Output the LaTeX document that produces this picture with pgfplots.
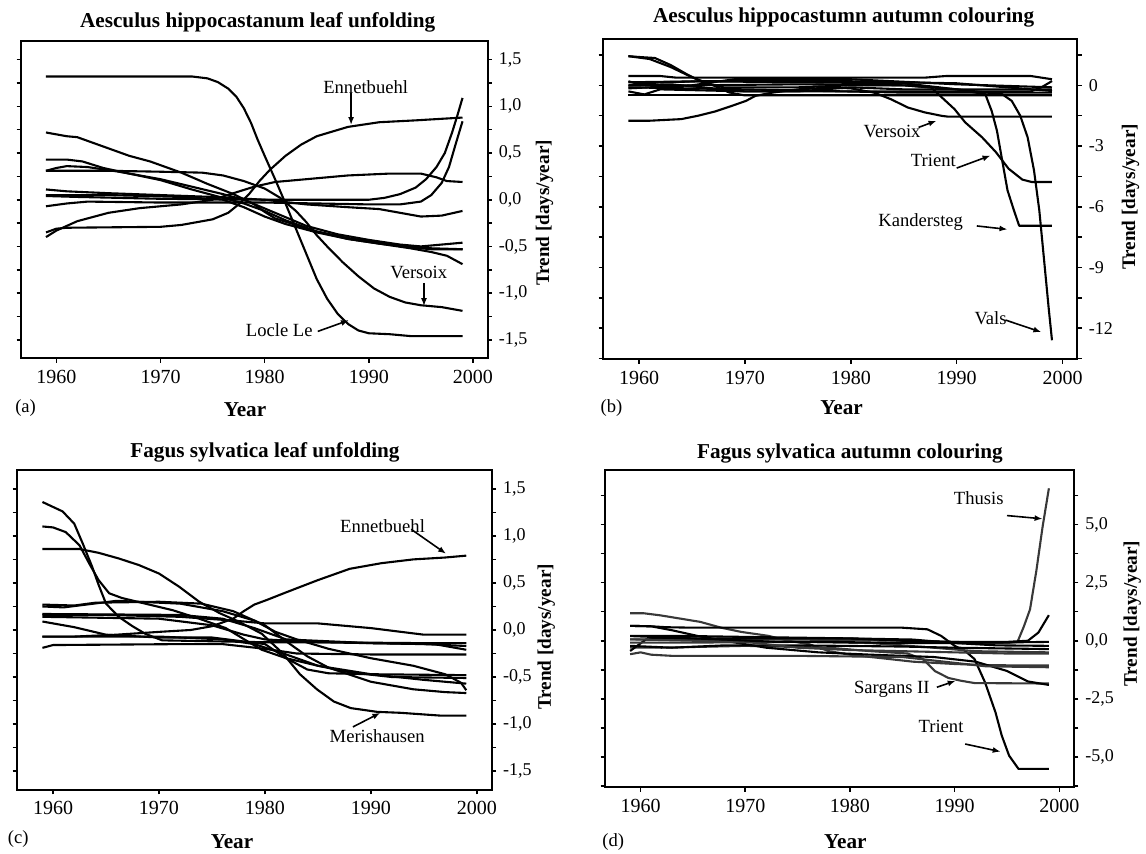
\documentclass[border=0pt]{standalone}
\usepackage{fontspec}
\setmainfont{Liberation Serif}
\usepackage{pgfplots}
\pgfplotsset{compat=1.18}
\usetikzlibrary{arrows.meta}
\pgfplotsset{
  panel/.style={
    scale only axis,
    anchor=south west,
    xmin=1956.6, xmax=2001.4,
    xtick={1960,1970,1980,1990,2000},
    xticklabels={1960,1970,1980,1990,2000},
    xtick pos=bottom,
    yticklabel pos=right,
    ytick pos=both,
    tick align=outside,
    major tick length=2.2pt,
    minor tick length=2.2pt,
    axis line style={line width=1pt},
    tick style={black, line width=0.8pt},
    yticklabel style={font=\fontsize{9}{10}\selectfont},
    xticklabel style={font=\fontsize{10}{11}\selectfont},
    cycle list={{black, solid}},
    every axis plot/.append style={line width=1.05pt, no marks, line join=round},
  },
}
\tikzset{ann/.style={font=\fontsize{9.3}{11}\selectfont},
  arr/.style={-{Latex[length=4pt,width=3pt]}, line width=0.8pt},
  ttl/.style={font=\fontsize{10.6}{12}\selectfont\bfseries},
  lbl/.style={font=\fontsize{9.6}{11}\selectfont\bfseries}}
\begin{document}
\begin{tikzpicture}
\useasboundingbox (0,0) rectangle (573pt,427pt);
% ---------------- (a)
\begin{axis}[panel, at={(10.5pt,247.75pt)}, width=233.25pt, height=158.75pt,
  ymin=-1.7, ymax=1.7,
  ytick={-1.5,-1,-0.5,0,0.5,1,1.5},
  yticklabels={{-1,5},{-1,0},{-0,5},{0,0},{0,5},{1,0},{1,5}},
  minor ytick={-1.25,-0.75,-0.25,0.25,0.75,1.25}]
\addplot coordinates {(1959,1.32)(1973,1.32)(1974.5,1.30)(1975.5,1.26)(1976.5,1.19)(1977.3,1.10)(1978,0.98)(1978.7,0.82)(1979.3,0.65)(1980,0.47)(1981,0.22)(1982,-0.04)(1983,-0.31)(1984,-0.58)(1985,-0.85)(1986,-1.06)(1987,-1.22)(1988,-1.33)(1989,-1.40)(1990,-1.43)(1992,-1.44)(1994,-1.46)(1999,-1.46)};
\addplot coordinates {(1959,0.72)(1960.5,0.69)(1961,0.68)(1962,0.67)(1964,0.59)(1967,0.47)(1969,0.41)(1972,0.29)(1974.5,0.17)(1977,0.06)(1979,-0.05)(1980,-0.13)(1981,-0.20)(1983,-0.27)(1985,-0.34)(1988,-0.41)(1991,-0.46)(1994,-0.50)(1996,-0.52)(1999,-0.53)};
\addplot coordinates {(1959,0.43)(1961,0.43)(1962.5,0.41)(1964.5,0.34)(1967,0.28)(1970,0.21)(1973,0.11)(1976,0.02)(1978,-0.04)(1980,-0.12)(1982,-0.22)(1985,-0.34)(1988,-0.42)(1991,-0.47)(1994,-0.52)(1996,-0.56)(1997.5,-0.6)(1999,-0.69)};
\addplot coordinates {(1959,0.31)(1965,0.31)(1970,0.30)(1974,0.29)(1976,0.26)(1978,0.20)(1980,0.12)(1981.5,0.02)(1983,-0.12)(1984,-0.24)(1985,-0.38)(1986,-0.50)(1987.5,-0.67)(1989,-0.82)(1990.5,-0.95)(1992,-1.04)(1993.5,-1.10)(1995,-1.13)(1997,-1.15)(1999,-1.19)};
\addplot coordinates {(1959,0.31)(1960,0.34)(1961,0.36)(1963,0.35)(1966,0.30)(1970,0.22)(1973,0.14)(1976,0.06)(1978,0.0)(1981,-0.14)(1984,-0.28)(1987,-0.37)(1990,-0.43)(1993,-0.48)(1995,-0.50)(1997,-0.48)(1999,-0.46)};
\addplot coordinates {(1959,0.11)(1961,0.09)(1965,0.07)(1970,0.05)(1975,0.03)(1980,0.0)(1984,-0.05)(1988,-0.08)(1991,-0.10)(1993,-0.14)(1995,-0.18)(1997,-0.17)(1999,-0.12)};
\addplot coordinates {(1959,0.04)(1962,0.03)(1970,0.01)(1980,0.0)(1990,0.0)(1991.5,0.02)(1993,0.06)(1994.5,0.13)(1995.5,0.22)(1996.5,0.35)(1997.3,0.50)(1998,0.72)(1998.5,0.90)(1999,1.09)};
\addplot coordinates {(1959,0.05)(1965,0.05)(1972,0.03)(1976,0.0)(1978,-0.08)(1980,-0.18)(1982,-0.26)(1985,-0.35)(1988,-0.42)(1991,-0.47)(1994,-0.51)(1996,-0.53)(1999,-0.53)};
\addplot coordinates {(1959,-0.07)(1961,-0.04)(1963,-0.02)(1970,-0.03)(1980,-0.03)(1990,-0.05)(1993,-0.05)(1995,-0.02)(1996,0.05)(1997,0.18)(1997.7,0.35)(1998.3,0.58)(1999,0.84)};
\addplot coordinates {(1959,-0.35)(1960,-0.31)(1961,-0.30)(1970,-0.29)(1972,-0.27)(1975,-0.21)(1976.5,-0.14)(1977.5,-0.05)(1978.5,0.06)(1979.5,0.20)(1980.5,0.32)(1982,0.47)(1983.5,0.59)(1985,0.68)(1988,0.78)(1991,0.83)(1994.5,0.85)(1999,0.88)};
\addplot coordinates {(1959,-0.40)(1960,-0.33)(1962,-0.23)(1965,-0.14)(1968,-0.09)(1972,-0.05)(1975,0.0)(1977,0.07)(1979,0.14)(1981,0.19)(1984,0.22)(1988,0.26)(1992,0.28)(1995,0.28)(1996.5,0.24)(1997.5,0.20)(1999,0.19)};
\node[ann] at (axis cs:1989.7,1.21) {Ennetbuehl};
\draw[arr] (axis cs:1988.3,1.14) -- (axis cs:1988.3,0.80);
\node[ann] at (axis cs:1994.8,-0.78) {Versoix};
\draw[arr] (axis cs:1995.3,-0.89) -- (axis cs:1995.3,-1.14);
\node[ann] at (axis cs:1981.4,-1.40) {Locle Le};
\draw[arr] (axis cs:1985.1,-1.41) -- (axis cs:1988.1,-1.29);
\end{axis}
% ---------------- (b)
\begin{axis}[panel, at={(301.5pt,247.25pt)}, width=237.2pt, height=160.25pt,
  ymin=-13.55, ymax=2.29,
  ytick={-12,-9,-6,-3,0},
  yticklabels={-12,-9,-6,-3,0},
  minor ytick={-13.5,-10.5,-7.5,-4.5,-1.5,1.5}]
\addplot coordinates {(1959,1.44)(1961,1.3)(1963,0.9)(1965,0.4)(1967,0.0)(1968.5,-0.35)(1970,-0.5)(1999,-0.5)};
\addplot coordinates {(1959,1.44)(1960,1.4)(1961.5,1.35)(1963,1.0)(1964.5,0.55)(1966,0.15)(1968,-0.1)(1975,-0.1)(1980,0.0)(1985,0.0)(1987.6,-0.11)(1988.6,-0.6)(1989.8,-1.18)(1990.8,-1.83)(1992.4,-2.57)(1993.7,-3.3)(1994.9,-4.12)(1996.2,-4.66)(1997.1,-4.78)(1999,-4.78)};
\addplot coordinates {(1959,0.46)(1962,0.46)(1963.5,0.38)(1987,0.38)(1989,0.46)(1997,0.46)(1999,0.3)};
\addplot coordinates {(1959,-1.75)(1961,-1.75)(1964,-1.67)(1965.6,-1.5)(1967.2,-1.29)(1968.8,-1.01)(1970.1,-0.77)(1971,-0.52)(1972.6,-0.36)(1975,-0.2)(1978,-0.11)(1980,-0.15)(1982.2,-0.36)(1983.8,-0.69)(1985.4,-1.10)(1987,-1.34)(1988.6,-1.51)(1989.2,-1.55)(1999,-1.55)};
\addplot coordinates {(1959,0.2)(1960,0.05)(1962,0.15)(1966,0.2)(1975,0.15)(1985,0.1)(1990,-0.2)(1992.7,-0.44)(1993.3,-1.26)(1993.8,-2.24)(1994.3,-3.72)(1994.8,-5.19)(1995.4,-6.17)(1995.9,-6.94)(1999,-6.94)};
\addplot coordinates {(1959,0.0)(1965,0.0)(1975,0.05)(1985,0.0)(1990,-0.2)(1994.3,-0.44)(1995.2,-0.77)(1996,-1.5)(1996.7,-2.57)(1997.3,-4.2)(1997.8,-6.17)(1998.1,-7.8)(1998.4,-9.44)(1998.7,-11.08)(1999,-12.6)};
\addplot coordinates {(1959,-0.3)(1960.5,-0.45)(1962,-0.2)(1970,-0.3)(1985,-0.3)(1995,-0.3)(1997,-0.3)(1998,-0.1)(1999,0.21)};
\addplot coordinates {(1959,0.15)(1966,0.2)(1980,0.2)(1990,0.1)(1999,-0.28)};
\addplot coordinates {(1959,-0.1)(1970,-0.2)(1985,-0.36)(1999,-0.36)};
\addplot coordinates {(1959,-0.47)(1999,-0.47)};
\addplot coordinates {(1959,0.0)(1963,0.05)(1970,-0.3)(1975,-0.3)(1980,-0.1)(1985,-0.2)(1999,-0.2)};
\addplot coordinates {(1959,-0.15)(1965,0.0)(1969,0.3)(1980,0.3)(1990,0.05)(1999,-0.1)};
\node[ann] at (axis cs:1983.9,-2.27) {Versoix};
\draw[arr] (axis cs:1986.4,-2.08) -- (axis cs:1988.1,-1.75);
\node[ann] at (axis cs:1987.8,-3.72) {Trient};
\draw[arr] (axis cs:1990.0,-4.09) -- (axis cs:1993.2,-3.47);
\node[ann] at (axis cs:1986.6,-6.74) {Kandersteg};
\draw[arr] (axis cs:1991.9,-6.95) -- (axis cs:1994.8,-7.12);
\node[ann] at (axis cs:1993.2,-11.49) {Vals};
\draw[arr] (axis cs:1994.6,-11.6) -- (axis cs:1998.0,-12.2);
\end{axis}
% ---------------- (c)
\begin{axis}[panel, at={(8.5pt,32pt)}, width=237.35pt, height=160pt,
  ymin=-1.7, ymax=1.7,
  ytick={-1.5,-1,-0.5,0,0.5,1,1.5},
  yticklabels={{-1,5},{-1,0},{-0,5},{0,0},{0,5},{1,0},{1,5}},
  minor ytick={-1.25,-0.75,-0.25,0.25,0.75,1.25}]
\addplot coordinates {(1959,1.36)(1960.9,1.26)(1962,1.13)(1962.8,0.92)(1963.7,0.67)(1964.3,0.48)(1965,0.28)(1966.2,0.14)(1967.5,0.04)(1968.7,-0.04)(1970.3,-0.11)(1975,-0.12)(1980,-0.13)(1985,-0.13)(1990,-0.14)(1995,-0.15)(1999,-0.17)};
\addplot coordinates {(1959,1.10)(1960,1.09)(1961.2,1.04)(1962.5,0.90)(1963.4,0.71)(1964.3,0.53)(1965.3,0.39)(1966.5,0.34)(1968.7,0.28)(1971.3,0.21)(1973.8,0.12)(1976.3,0.02)(1978.2,-0.11)(1979.7,-0.21)(1982,-0.3)(1985,-0.38)(1990,-0.47)(1995,-0.53)(1999,-0.57)};
\addplot coordinates {(1959,0.86)(1962.5,0.86)(1964.3,0.82)(1966.2,0.76)(1968.1,0.69)(1970,0.60)(1971.9,0.46)(1973.8,0.30)(1975.7,0.18)(1977.5,0.09)(1979.7,-0.04)(1981.7,-0.25)(1983.3,-0.47)(1984.9,-0.63)(1986.5,-0.76)(1988.1,-0.83)(1990.6,-0.87)(1992.8,-0.88)(1996.6,-0.91)(1999,-0.91)};
\addplot coordinates {(1959,-0.07)(1962,-0.07)(1966,-0.05)(1970,-0.02)(1973,0.0)(1975,0.04)(1977,0.12)(1978,0.2)(1979,0.27)(1980.2,0.32)(1982,0.40)(1985,0.53)(1988,0.65)(1991,0.71)(1994,0.75)(1997,0.77)(1999,0.79)};
\addplot coordinates {(1959,0.27)(1962,0.26)(1964,0.29)(1970,0.30)(1974,0.28)(1977,0.2)(1980,0.05)(1982,-0.12)(1984,-0.28)(1986,-0.4)(1990,-0.55)(1994,-0.63)(1997,-0.66)(1999,-0.67)};
\addplot coordinates {(1959,0.25)(1961,0.24)(1966,0.31)(1972,0.28)(1976,0.2)(1979,0.1)(1981,-0.02)(1983,-0.1)(1986,-0.2)(1990,-0.3)(1994,-0.38)(1997,-0.47)(1998.5,-0.56)(1999,-0.64)};
\addplot coordinates {(1959,0.16)(1965,0.16)(1972,0.14)(1977,0.1)(1980,0.07)(1985,0.07)(1990,0.02)(1995,-0.05)(1999,-0.05)};
\addplot coordinates {(1959,0.14)(1970,0.12)(1975,0.05)(1978,-0.05)(1980,-0.1)(1985,-0.13)(1995,-0.14)(1999,-0.14)};
\addplot coordinates {(1959,0.09)(1962,0.03)(1965,-0.05)(1970,-0.08)(1975,-0.08)(1980,-0.15)(1982,-0.3)(1984,-0.42)(1986,-0.46)(1990,-0.47)(1999,-0.48)};
\addplot coordinates {(1959,-0.07)(1970,-0.07)(1976,-0.1)(1979,-0.15)(1982,-0.26)(1985,-0.38)(1988,-0.45)(1992,-0.5)(1999,-0.51)};
\addplot coordinates {(1959,-0.19)(1960,-0.16)(1972,-0.15)(1976,-0.15)(1980,-0.2)(1983,-0.25)(1990,-0.26)(1999,-0.26)};
\addplot coordinates {(1959,0.17)(1972,0.16)(1976,0.12)(1979,0.02)(1982,-0.1)(1990,-0.14)(1996,-0.15)(1999,-0.21)};
\node[ann] at (axis cs:1991.1,1.10) {Ennetbuehl};
\draw[arr] (axis cs:1993.8,1.07) -- (axis cs:1997.1,0.81);
\node[ann] at (axis cs:1990.6,-1.13) {Merishausen};
\draw[arr] (axis cs:1988.3,-1.03) -- (axis cs:1990.9,-0.88);
\end{axis}
% ---------------- (d)
\begin{axis}[panel, at={(302.5pt,33.35pt)}, width=234.5pt, height=158.65pt,
  ymin=-6.3, ymax=7.34,
  ytick={-5,-2.5,0,2.5,5},
  yticklabels={{-5,0},{-2,5},{0,0},{2,5},{5,0}},
  minor ytick={-6.25,-3.75,-1.25,1.25,3.75,6.25},
  cycle list={{black!78, solid}}]
\addplot coordinates {(1959,1.18)(1960.3,1.18)(1961.9,1.09)(1963.8,0.95)(1965.7,0.81)(1967.7,0.56)(1969.6,0.38)(1972.2,0.21)(1974.1,0.0)(1976.1,-0.15)(1978,-0.45)(1980.3,-0.62)(1983,-0.75)(1986,-0.9)(1990,-1.0)(1993,-1.05)(1996,-1.06)(1999,-1.06)};
\addplot coordinates {(1959,0.64)(1961,0.62)(1962.5,0.58)(1965,0.56)(1985,0.56)(1987.4,0.49)(1988.7,0.21)(1990,-0.22)(1991,-0.44)(1991.9,-0.79)(1992.9,-1.79)(1993.9,-3.08)(1994.5,-4.08)(1995.2,-4.94)(1996.1,-5.51)(1999,-5.51)};
\addplot coordinates {(1959,0.06)(1965,0.05)(1975,0.05)(1985,0.0)(1990,-0.05)(1993,-0.1)(1995,-0.1)(1996,-0.05)(1996.6,0.6)(1997.2,1.35)(1997.8,3.0)(1998.4,4.9)(1999,6.55)};
\addplot coordinates {(1959,0.21)(1965,0.2)(1972,0.15)(1980,0.1)(1985,0.0)(1990,-0.05)(1995,-0.05)(1997,0.0)(1998,0.35)(1999,1.1)};
\addplot coordinates {(1959,-0.29)(1962,-0.3)(1970,-0.22)(1978,-0.3)(1982,-0.45)(1985.5,-0.55)(1987,-0.8)(1988.1,-1.3)(1989.4,-1.6)(1990.6,-1.72)(1991.9,-1.82)(1999,-1.84)};
\addplot coordinates {(1959,0.64)(1961,0.62)(1963,0.45)(1965.5,0.2)(1968,0.0)(1972,-0.3)(1977,-0.5)(1982,-0.6)(1988,-0.7)(1992,-0.9)(1995,-1.3)(1997,-1.75)(1999,-1.9)};
\addplot coordinates {(1959,-0.58)(1960,-0.5)(1961,-0.6)(1963,-0.65)(1975,-0.65)(1985,-0.7)(1990,-0.95)(1993,-1.1)(1999,-1.14)};
\addplot coordinates {(1959,-0.44)(1960.5,0.05)(1962,0.1)(1970,0.1)(1980,0.1)(1986,0.05)(1990,-0.1)(1994,-0.2)(1999,-0.22)};
\addplot coordinates {(1959,-0.08)(1965,-0.08)(1975,-0.05)(1982,-0.1)(1988,-0.3)(1992,-0.45)(1999,-0.5)};
\addplot coordinates {(1959,-0.22)(1963,-0.3)(1968,-0.2)(1975,-0.2)(1985,-0.25)(1990,-0.3)(1999,-0.36)};
\addplot coordinates {(1959,0.06)(1970,-0.05)(1975,-0.3)(1980,-0.4)(1985,-0.45)(1990,-0.5)(1995,-0.55)(1999,-0.55)};
\addplot coordinates {(1959,0.2)(1968,0.05)(1973,-0.05)(1978,-0.05)(1985,-0.1)(1990,-0.1)(1999,-0.05)};
\node[ann] at (axis cs:1992.3,6.14) {Thusis};
\draw[arr] (axis cs:1995.0,5.38) -- (axis cs:1998.4,5.24);
\node[ann] at (axis cs:1984.0,-2.08) {Sargans II};
\draw[arr] (axis cs:1988.3,-2.0) -- (axis cs:1990.1,-1.72);
\node[ann] at (axis cs:1988.7,-3.69) {Trient};
\draw[arr] (axis cs:1991.0,-4.44) -- (axis cs:1994.4,-4.77);
\end{axis}
% ---------------- titles and labels
\node[ttl] at (128.85pt,416pt) {Aesculus hippocastanum leaf unfolding};
\node[ttl] at (421.8pt,418pt) {Aesculus hippocastumn autumn colouring};
\node[ttl] at (132.5pt,201pt) {Fagus sylvatica leaf unfolding};
\node[ttl] at (424.95pt,200.15pt) {Fagus sylvatica autumn colouring};
\node[ttl] at (122.5pt,222pt) {Year};
\node[ttl] at (420.8pt,223pt) {Year};
\node[ttl] at (116pt,6pt) {Year};
\node[ttl] at (422.65pt,6pt) {Year};
\node[ann] at (12.8pt,223pt) {(a)};
\node[ann] at (305.7pt,223pt) {(b)};
\node[ann] at (9.15pt,7.65pt) {(c)};
\node[ann] at (306.6pt,6pt) {(d)};
\node[lbl,rotate=90] at (272.3pt,320.5pt) {Trend [days/year]};
\node[lbl,rotate=90] at (565.2pt,328.5pt) {Trend [days/year]};
\node[lbl,rotate=90] at (273.2pt,108.5pt) {Trend [days/year]};
\node[lbl,rotate=90] at (566.1pt,120.15pt) {Trend [days/year]};
\end{tikzpicture}
\end{document}
